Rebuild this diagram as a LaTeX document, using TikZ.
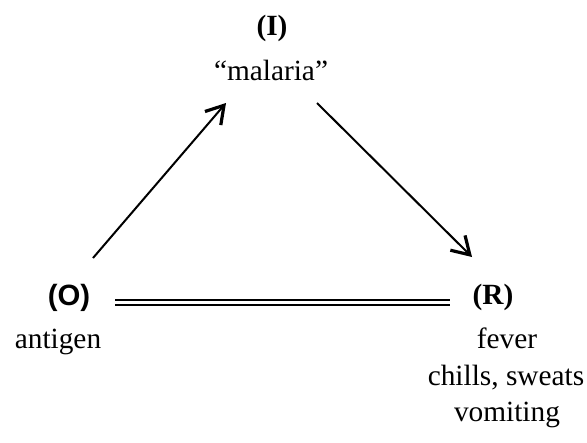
\documentclass[tikz,border=0pt]{standalone}
\usepackage{fontspec}
\setmainfont{Liberation Serif}
\newfontfamily\tagsans{Liberation Sans}
\usetikzlibrary{arrows.meta}
\tikzset{
  txt/.style={anchor=base, inner sep=0pt, font=\fontsize{22}{26}\selectfont},
  tag/.style={anchor=base, inner sep=0pt, font=\fontsize{22}{26}\selectfont\bfseries},
  tagsf/.style={anchor=base, inner sep=0pt, font=\fontsize{22}{26}\selectfont\tagsans\bfseries},
  link/.style={line width=1.5pt, -{Straight Barb[length=4.5mm,width=5.5mm,line width=2.4pt]}},
  equiv/.style={double, double distance=2.4pt, line width=1.3pt}
}
\begin{document}
\begin{tikzpicture}[x=0.75pt,y=-0.75pt]
  \useasboundingbox (0,0) rectangle (587,443);
  % Sommet du haut
  \node[tag] (I) at (272,35) {(I)};
  \node[txt] (malaria) at (271,80) {``malaria''};
  % Sommet de gauche
  \node[tagsf] (O) at (69,305) {(O)};
  \node[txt] (antigen) at (58,348) {antigen};
  % Sommet de droite
  \node[tag] (R) at (493,304) {(R)};
  \node[txt] (fever) at (507,348) {fever};
  \node[txt] (chills) at (506,385) {chills, sweats};
  \node[txt] (vomiting) at (507,421) {vomiting};
  % Extremites des fleches
  \coordinate (oStart) at (93,258);
  \coordinate (iEnd) at (226,103);
  \coordinate (iStart) at (317,103);
  \coordinate (rEnd) at (472,257);
  \coordinate (oRight) at (115,302.5);
  \coordinate (rLeft) at (450,302.5);
  % Fleches
  \draw[link] (oStart) -- (iEnd);
  \draw[link] (iStart) -- (rEnd);
  \draw[equiv] (oRight) -- (rLeft);
\end{tikzpicture}
\end{document}
